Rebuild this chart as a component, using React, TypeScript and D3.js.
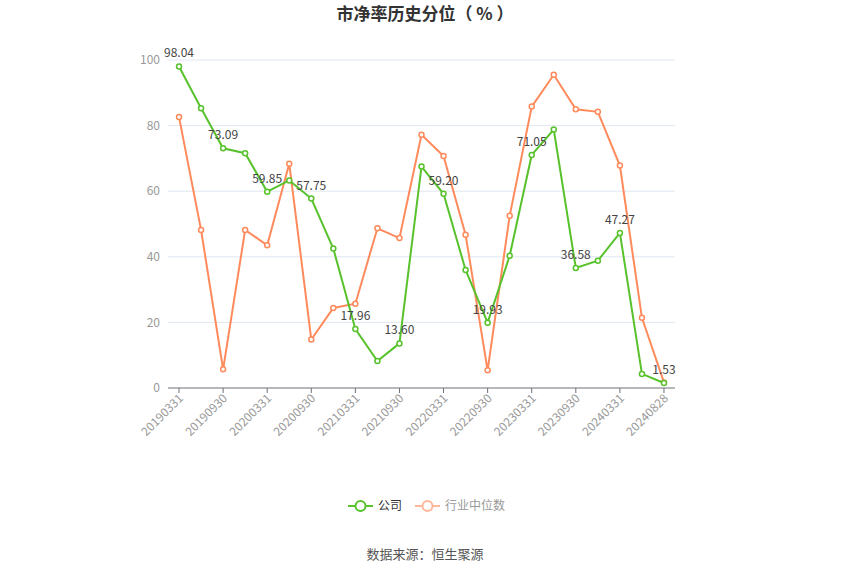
import React, { useEffect, useRef } from "react";
import * as d3 from "d3";

const dates = [
  "20190331", "20190630", "20190930", "20191231", "20200331", "20200630",
  "20200930", "20201231", "20210331", "20210630", "20210930", "20211231",
  "20220331", "20220630", "20220930", "20221231", "20230331", "20230630",
  "20230930", "20231231", "20240331", "20240630", "20240828",
];
const companyValues = [
  98.04, 85.3, 73.09, 71.6, 59.85, 63.3, 57.75, 42.5, 17.96, 8.2, 13.6, 67.5,
  59.2, 36.0, 19.93, 40.3, 71.05, 78.8, 36.58, 38.8, 47.27, 4.3, 1.53,
];
const industryValues = [
  82.6, 48.2, 5.7, 48.2, 43.5, 68.4, 14.8, 24.4, 25.7, 48.7, 45.7, 77.2,
  70.7, 46.7, 5.4, 52.5, 85.8, 95.5, 85.0, 84.2, 67.8, 21.4, 1.7,
];
const yTicks = [0, 20, 40, 60, 80, 100];

const GREEN = "#58c22c";
const ORANGE = "#ff8a5c";

const App = () => {
  const svgRef = useRef<SVGSVGElement>(null);

  useEffect(() => {
    const width = 850;
    const height = 575;
    const margins = { top: 60, right: 175, bottom: 187, left: 168 };
    const font = "'Microsoft YaHei', 'Noto Sans CJK SC', sans-serif";

    const svg = d3.select(svgRef.current);
    svg.selectAll("*").remove();
    svg.attr("width", width).attr("height", height).style("font-family", font);

    const xScale = d3
      .scaleBand()
      .domain(dates)
      .range([margins.left, width - margins.right]);
    const xc = (d: string) => (xScale(d) as number) + xScale.bandwidth() / 2;

    const yScale = d3
      .scaleLinear()
      .domain([0, 100])
      .range([height - margins.bottom, margins.top]);

    // Title
    svg
      .append("text")
      .attr("x", 425)
      .attr("y", 20)
      .attr("text-anchor", "middle")
      .attr("font-size", "17px")
      .attr("font-weight", "bold")
      .attr("fill", "#333")
      .text("市净率历史分位（ % ）");

    // Grid lines
    svg
      .append("g")
      .selectAll("line")
      .data(yTicks.filter((t) => t > 0))
      .enter()
      .append("line")
      .attr("x1", margins.left)
      .attr("x2", width - margins.right)
      .attr("y1", (d) => yScale(d))
      .attr("y2", (d) => yScale(d))
      .attr("stroke", "#e0e6f1")
      .attr("stroke-width", 1);

    // Y labels
    svg
      .append("g")
      .selectAll("text")
      .data(yTicks)
      .enter()
      .append("text")
      .attr("x", margins.left - 8)
      .attr("y", (d) => yScale(d))
      .attr("dy", "0.35em")
      .attr("text-anchor", "end")
      .attr("font-size", "12px")
      .attr("fill", "#999")
      .text((d) => d);

    // X axis
    const xAxisY = yScale(0);
    svg
      .append("line")
      .attr("x1", margins.left)
      .attr("x2", width - margins.right)
      .attr("y1", xAxisY)
      .attr("y2", xAxisY)
      .attr("stroke", "#6e7079");

    const shown = dates.filter((_, i) => i % 2 === 0);
    const xTicks = svg.append("g");
    xTicks
      .selectAll("line")
      .data(shown)
      .enter()
      .append("line")
      .attr("x1", (d) => xc(d))
      .attr("x2", (d) => xc(d))
      .attr("y1", xAxisY)
      .attr("y2", xAxisY + 5)
      .attr("stroke", "#6e7079");
    xTicks
      .selectAll("text")
      .data(shown)
      .enter()
      .append("text")
      .attr(
        "transform",
        (d) => `translate(${xc(d) + 2}, ${xAxisY + 8}) rotate(-45)`
      )
      .attr("text-anchor", "end")
      .attr("dy", "0.35em")
      .attr("font-size", "12px")
      .attr("fill", "#999")
      .text((d) => d);

    const line = d3
      .line<number>()
      .x((_, i) => xc(dates[i]))
      .y((d) => yScale(d));

    const drawSeries = (values: number[], color: string) => {
      svg
        .append("path")
        .datum(values)
        .attr("d", line)
        .attr("fill", "none")
        .attr("stroke", color)
        .attr("stroke-width", 2);
      svg
        .append("g")
        .selectAll("circle")
        .data(values)
        .enter()
        .append("circle")
        .attr("cx", (_, i) => xc(dates[i]))
        .attr("cy", (d) => yScale(d))
        .attr("r", 2.5)
        .attr("fill", "#fff")
        .attr("stroke", color)
        .attr("stroke-width", 1.5);
    };

    drawSeries(industryValues, ORANGE);
    drawSeries(companyValues, GREEN);

    // Labels on company series (every other point)
    svg
      .append("g")
      .selectAll("text")
      .data(companyValues.filter((_, i) => i % 2 === 0))
      .enter()
      .append("text")
      .attr("x", (_, i) => xc(dates[i * 2]))
      .attr("y", (d) => yScale(d) - 9)
      .attr("text-anchor", "middle")
      .attr("font-size", "12px")
      .attr("fill", "#444")
      .text((d) => d.toFixed(2));

    // Legend
    const legend = svg.append("g").attr("transform", "translate(0, 506)");
    const items = [
      { name: "公司", color: GREEN, text: "#333", x: 348 },
      { name: "行业中位数", color: "#ffb79b", text: "#999", x: 415 },
    ];
    items.forEach((it) => {
      legend
        .append("line")
        .attr("x1", it.x)
        .attr("x2", it.x + 25)
        .attr("y1", 0)
        .attr("y2", 0)
        .attr("stroke", it.color)
        .attr("stroke-width", 2);
      legend
        .append("circle")
        .attr("cx", it.x + 12.5)
        .attr("cy", 0)
        .attr("r", 5)
        .attr("fill", "#fff")
        .attr("stroke", it.color)
        .attr("stroke-width", 2);
      legend
        .append("text")
        .attr("x", it.x + 30)
        .attr("y", 0)
        .attr("dy", "0.35em")
        .attr("font-size", "12px")
        .attr("fill", it.text)
        .text(it.name);
    });

    // Source
    svg
      .append("text")
      .attr("x", 425)
      .attr("y", 559)
      .attr("text-anchor", "middle")
      .attr("font-size", "13px")
      .attr("fill", "#555")
      .text("数据来源：恒生聚源");
  }, []);

  return (
    <svg
      ref={svgRef}
      style={{ position: "absolute", left: 0, top: 0, display: "block" }}
    ></svg>
  );
};

export default App;
